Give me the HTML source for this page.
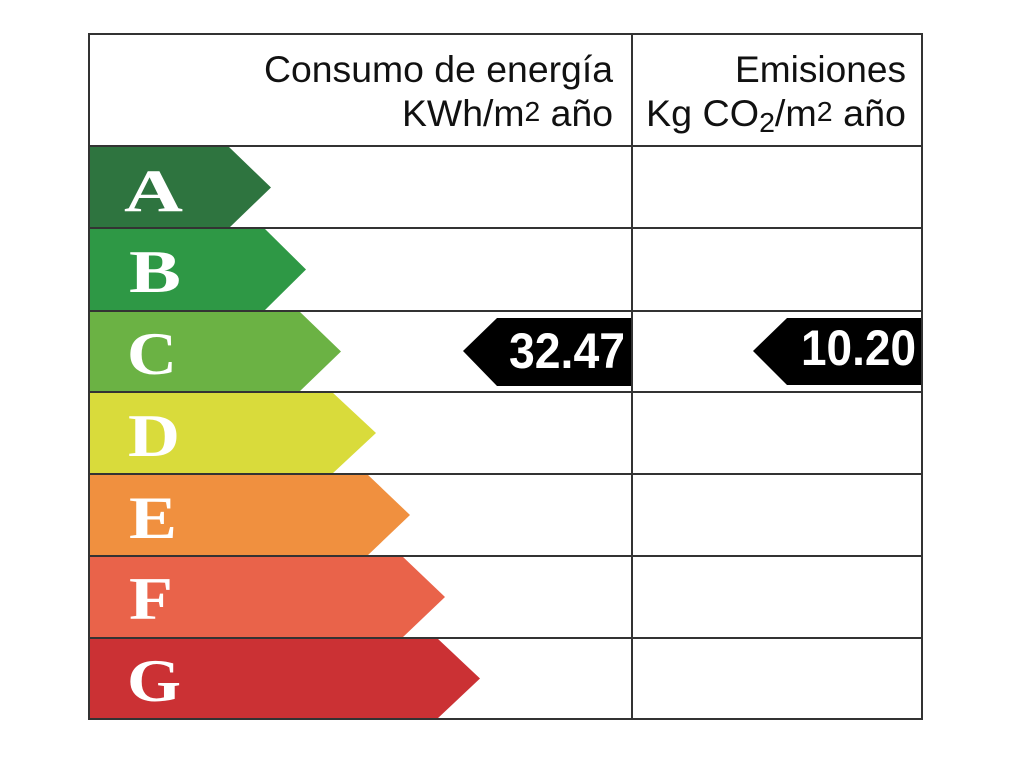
<!DOCTYPE html>
<html><head><meta charset="utf-8"><style>html,body{margin:0;padding:0;background:#fff}svg{display:block}</style></head>
<body>
<svg width="1020" height="765" viewBox="0 0 1020 765" xmlns="http://www.w3.org/2000/svg">
<rect width="1020" height="765" fill="#fff"/>
<g font-family="Liberation Serif, serif" font-weight="bold" fill="#fff" font-size="60">
<polygon points="89,147 229,147 271,187.5 229,228 89,228" fill="#2e743f"/>
<polygon points="89,228 264,228 306,269.5 264,311 89,311" fill="#2e9845"/>
<polygon points="89,311 299,311 341,351.5 299,392 89,392" fill="#6bb244"/>
<polygon points="89,392 332,392 376,433 332,474 89,474" fill="#d9db3b"/>
<polygon points="89,474 367,474 410,515 367,556 89,556" fill="#f0903f"/>
<polygon points="89,556 402,556 445,597 402,638 89,638" fill="#e9634a"/>
<polygon points="89,638 437,638 480,678.5 437,719 89,719" fill="#cb3134"/>
<text x="124" y="211" textLength="59" lengthAdjust="spacingAndGlyphs">A</text>
<text x="129" y="292" textLength="52" lengthAdjust="spacingAndGlyphs">B</text>
<text x="127" y="374" textLength="50" lengthAdjust="spacingAndGlyphs">C</text>
<text x="128" y="456" textLength="52" lengthAdjust="spacingAndGlyphs">D</text>
<text x="129" y="538" textLength="48" lengthAdjust="spacingAndGlyphs">E</text>
<text x="129" y="619" textLength="44" lengthAdjust="spacingAndGlyphs">F</text>
<text x="127" y="701" textLength="54" lengthAdjust="spacingAndGlyphs">G</text>
</g>
<g stroke="#333" stroke-width="2" fill="none">
<rect x="89" y="34" width="833" height="685"/>
<line x1="632" y1="34" x2="632" y2="719"/>
<line x1="89" y1="146" x2="922" y2="146"/>
<line x1="89" y1="228" x2="922" y2="228"/>
<line x1="89" y1="311" x2="922" y2="311"/>
<line x1="89" y1="392" x2="922" y2="392"/>
<line x1="89" y1="474" x2="922" y2="474"/>
<line x1="89" y1="556" x2="922" y2="556"/>
<line x1="89" y1="638" x2="922" y2="638"/>
</g>
<polygon points="463,351 497,318 631,318 631,386 497,386" fill="#000"/>
<polygon points="753,351 787,318 921,318 921,385 787,385" fill="#000"/>
<g font-family="Liberation Sans, sans-serif" font-weight="bold" fill="#fff" font-size="50">
<text x="509" y="368" textLength="116" lengthAdjust="spacingAndGlyphs">32.47</text>
<text x="801" y="365" textLength="115" lengthAdjust="spacingAndGlyphs">10.20</text>
</g>
<g font-family="Liberation Sans, sans-serif" fill="#111" font-size="37">
<text x="264" y="82" textLength="349" lengthAdjust="spacingAndGlyphs">Consumo de energía</text>
<text x="402" y="126" textLength="211" lengthAdjust="spacingAndGlyphs">KWh/m<tspan font-size="28" dy="-5">2</tspan><tspan dy="5"> año</tspan></text>
<text x="735" y="82" textLength="171" lengthAdjust="spacingAndGlyphs">Emisiones</text>
<text x="646" y="126" textLength="260" lengthAdjust="spacingAndGlyphs">Kg CO<tspan font-size="28" dy="6">2</tspan><tspan dy="-6">/m</tspan><tspan font-size="28" dy="-5">2</tspan><tspan dy="5"> año</tspan></text>
</g>
</svg>
</body></html>
